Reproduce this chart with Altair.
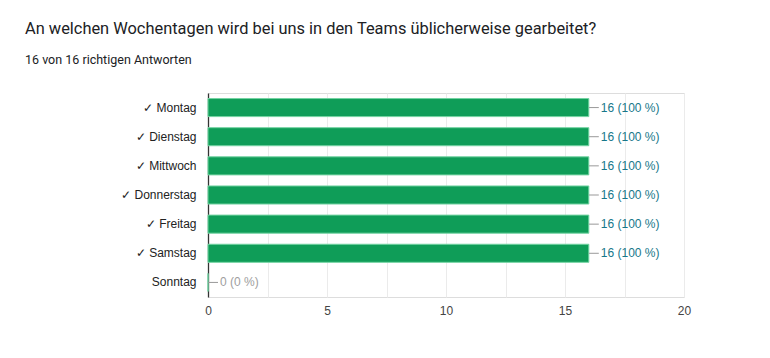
import altair as alt
import pandas as pd

days = ["✓ Montag", "✓ Dienstag", "✓ Mittwoch", "✓ Donnerstag", "✓ Freitag", "✓ Samstag", "Sonntag"]
counts = [16, 16, 16, 16, 16, 16, 0]
labels = ["16 (100 %)", "16 (100 %)", "16 (100 %)", "16 (100 %)", "16 (100 %)", "16 (100 %)", "0 (0 %)"]
correct = [True, True, True, True, True, True, False]
x_ticks = [0, 2.5, 5, 7.5, 10, 12.5, 15, 17.5, 20]

df = pd.DataFrame({"day": days, "count": counts, "label": labels, "correct": correct})

y_enc = alt.Y("day:N", sort=days, title=None,
              scale=alt.Scale(paddingInner=0.38, paddingOuter=0.19),
              axis=alt.Axis(domain=True, domainColor="#333333", domainWidth=1.3, ticks=False,
                            labelPadding=12, labelFontSize=12, labelColor="#222222",
                            labelFont="Arial", grid=False))
x_enc = alt.X("count:Q", title=None, scale=alt.Scale(domain=[0, 20], nice=False),
              axis=alt.Axis(values=x_ticks, domain=False, ticks=False, grid=True,
                            gridColor="#ebebeb", labelFontSize=12, labelColor="#444444",
                            labelFont="Arial", labelPadding=8, labelFlush=False,
                            labelExpr="datum.value % 5 == 0 ? datum.label : ''"))

base = alt.Chart(df)

bars = base.mark_bar(color="#0f9d58", stroke="#73d3a2", strokeWidth=1).encode(x=x_enc, y=y_enc)

connector = base.mark_rule(color="#999999", strokeWidth=1, x2Offset=10).encode(
    x="count:Q", x2="count:Q", y=alt.Y("day:N", sort=days))

text = base.mark_text(align="left", dx=12, fontSize=12, font="Arial").encode(
    x="count:Q", y=alt.Y("day:N", sort=days), text="label:N",
    color=alt.condition("datum.correct", alt.value("#17778a"), alt.value("#9e9e9e")))

chart = alt.layer(bars, connector, text).properties(
    width=476, height=204,
    title=alt.Title("An welchen Wochentagen wird bei uns in den Teams üblicherweise gearbeitet?",
                    subtitle="16 von 16 richtigen Antworten",
                    anchor="start", frame="group", dx=-183, offset=27, fontSize=16.4,
                    fontWeight="normal", font="Roboto", color="#202124", subtitleFont="Roboto",
                    subtitleFontSize=12.5, subtitleColor="#202124", subtitlePadding=16),
    autosize=alt.AutoSizeParams(type="none"),
    padding={"left": 200, "top": 85, "right": 70, "bottom": 50},
).configure_view(stroke="#ebebeb", strokeWidth=1).configure(background="white")

chart.save("out.html", embed_options={"renderer": "svg", "actions": False})
